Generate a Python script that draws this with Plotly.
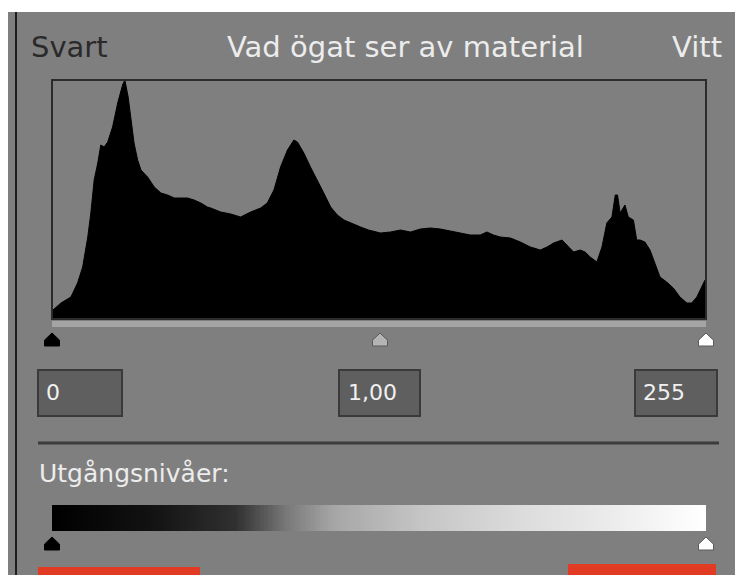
import plotly.graph_objects as go

# page body has an 8px margin; figure is placed at (8, 8) in the 743x575 window
OX, OY = 8, 8
W, H = 735, 567

# Histogram (input levels 0-255, relative pixel counts)
hist_levels = [0, 3.1, 7.0, 9.6, 11.6, 13.6, 14.8, 16.1, 17.5, 18.7, 20.0, 21.4, 23.3, 25.3, 27.2, 28.1,
               29.4, 30.5, 31.7, 33.1, 34.4, 37.0, 39.6, 42.2, 44.8, 47.4, 50.0, 52.6, 55.2, 57.8, 60.4,
               61.7, 65.6, 69.5, 73.4, 77.3, 81.2, 83.8, 86.4, 89.0, 91.7, 94.2, 95.6, 98.1, 100.7, 103.4,
               105.9, 108.6, 111.2, 113.8, 116.4, 120.3, 123.4, 128.1, 132.0, 135.9, 139.8, 143.7, 147.6,
               151.5, 155.4, 159.3, 163.2, 167.1, 169.7, 172.3, 174.9, 178.9, 182.8, 186.7, 190.6, 193.2,
               195.8, 199.1, 201.0, 203.6, 206.2, 208.1, 210.1, 212.7, 214.7, 216.6, 218.6, 219.9, 220.8,
               221.8, 223.7, 225.0, 227.0, 228.3, 229.6, 231.5, 233.5, 235.5, 237.4, 240.0, 242.6, 245.2,
               247.9, 249.8, 251.8, 253.7, 255]
hist_counts = [8, 15, 21, 35, 51, 81, 105, 138, 155, 173, 171, 176, 191, 215, 233, 238,
               221, 198, 175, 158, 148, 141, 131, 125, 123, 120, 120, 120, 118, 115, 111,
               110, 106, 104, 101, 106, 110, 115, 128, 151, 168, 178, 176, 165, 151, 138,
               125, 111, 103, 98, 95, 91, 88, 85, 86, 88, 86, 89, 90,
               89, 87, 85, 83, 83, 86, 83, 81, 80, 76, 71, 68, 71,
               75, 78, 73, 66, 68, 66, 61, 56, 71, 95, 101, 123, 123,
               105, 113, 101, 98, 78, 78, 76, 68, 55, 41, 36, 30, 21,
               15, 15, 21, 31, 38]

output_levels = list(range(256))
input_values = ["0", "1,00", "255"]
header_left, header_mid, header_right = "Svart", "Vad ögat ser av material", "Vitt"
output_label = "Utgångsnivåer:"

def px(x):
    return (x - OX) / W

def py(y):
    return 1 - (y - OY) / H

fig = go.Figure()

fig.add_trace(go.Scatter(
    x=hist_levels, y=hist_counts, mode="lines", fill="tozeroy",
    line=dict(color="black", width=1), fillcolor="black",
    hoverinfo="skip", showlegend=False, xaxis="x", yaxis="y"))

fig.add_trace(go.Heatmap(
    z=[output_levels], x=output_levels, y=[0],
    colorscale=[[0, "#000000"], [0.15, "#121212"], [0.28, "#303030"], [0.36, "#7a7a7a"],
                [0.43, "#a6a6a6"], [0.57, "#c6c6c6"], [0.72, "#dcdcdc"], [0.86, "#ececec"],
                [1, "#ffffff"]],
    showscale=False, hoverinfo="skip", xaxis="x2", yaxis="y2"))

shapes = []
# panel background
shapes.append(dict(type="rect", xref="paper", yref="paper", x0=px(8), x1=px(743), y0=py(575), y1=py(12),
                   fillcolor="#7f7f7f", line=dict(width=0), layer="below"))
# panel borders
shapes.append(dict(type="line", xref="paper", yref="paper", x0=px(16), x1=px(16), y0=py(575), y1=py(12),
                   line=dict(color="#1e1e1e", width=2)))
shapes.append(dict(type="line", xref="paper", yref="paper", x0=px(738), x1=px(738), y0=py(575), y1=py(12),
                   line=dict(color="#2a2a2a", width=2)))
# histogram box
shapes.append(dict(type="rect", xref="paper", yref="paper", x0=px(52), x1=px(706), y0=py(319), y1=py(80),
                   line=dict(color="#2b2b2b", width=2)))
# slider track
shapes.append(dict(type="rect", xref="paper", yref="paper", x0=px(52), x1=px(706), y0=py(327), y1=py(321),
                   fillcolor="#a4a4a4", line=dict(width=0)))

def slider(cx, top, fill, edge):
    w, h = 15, 13
    pts = [(cx, top), (cx + w / 2, top + h * 0.55), (cx + w / 2, top + h), (cx - w / 2, top + h),
           (cx - w / 2, top + h * 0.55)]
    path = "M " + " L ".join(f"{px(a):.5f},{py(b):.5f}" for a, b in pts) + " Z"
    return dict(type="path", xref="paper", yref="paper", path=path, fillcolor=fill,
                line=dict(color=edge, width=1))

shapes.append(slider(52, 333, "#000000", "#000000"))
shapes.append(slider(380, 333, "#b4b4b4", "#5a5a5a"))
shapes.append(slider(706, 333, "#ffffff", "#5a5a5a"))
shapes.append(slider(52, 537, "#000000", "#000000"))
shapes.append(slider(706, 537, "#ffffff", "#5a5a5a"))

# input boxes
boxes = [(38, 122), (339, 420), (635, 717)]
for (a, b) in boxes:
    shapes.append(dict(type="rect", xref="paper", yref="paper", x0=px(a), x1=px(b), y0=py(416), y1=py(370),
                       fillcolor="#5f5f5f", line=dict(color="#3a3a3a", width=2)))

# separator
shapes.append(dict(type="line", xref="paper", yref="paper", x0=px(38), x1=px(719), y0=py(443), y1=py(443),
                   line=dict(color="#3c3c3c", width=3)))

# red buttons at bottom
shapes.append(dict(type="rect", xref="paper", yref="paper", x0=px(38), x1=px(200), y0=py(576), y1=py(567),
                   fillcolor="#e23b24", line=dict(width=0)))
shapes.append(dict(type="rect", xref="paper", yref="paper", x0=px(568), x1=px(716), y0=py(576), y1=py(564),
                   fillcolor="#e23b24", line=dict(width=0)))

annotations = []
FONT = "DejaVu Sans"
annotations.append(dict(text=header_left, x=px(29), y=py(47), xref="paper", yref="paper", xanchor="left",
                        yanchor="middle", showarrow=False, font=dict(family=FONT, size=29, color="#2a2a2a")))
annotations.append(dict(text=header_mid, x=px(405), y=py(47), xref="paper", yref="paper", xanchor="center",
                        yanchor="middle", showarrow=False, font=dict(family=FONT, size=29, color="#ececec")))
annotations.append(dict(text=header_right, x=px(724), y=py(47), xref="paper", yref="paper", xanchor="right",
                        yanchor="middle", showarrow=False, font=dict(family=FONT, size=29, color="#ececec")))
text_x = [44, 346, 641]
for t, xx in zip(input_values, text_x):
    annotations.append(dict(text=t, x=px(xx), y=py(392), xref="paper", yref="paper", xanchor="left",
                            yanchor="middle", showarrow=False, font=dict(family=FONT, size=22, color="#f0f0f0")))
annotations.append(dict(text=output_label, x=px(37), y=py(473), xref="paper", yref="paper", xanchor="left",
                        yanchor="middle", showarrow=False, font=dict(family=FONT, size=25, color="#ececec")))

fig.update_layout(
    width=W, height=H, autosize=False,
    margin=dict(l=0, r=0, t=0, b=0, pad=0),
    paper_bgcolor="#ffffff", plot_bgcolor="rgba(0,0,0,0)",
    shapes=shapes, annotations=annotations,
    xaxis=dict(domain=[px(53), px(705)], range=[0, 255], visible=False, fixedrange=True),
    yaxis=dict(domain=[py(318), py(80)], range=[0, 238], visible=False, fixedrange=True),
    xaxis2=dict(domain=[px(52), px(706)], range=[-0.5, 255.5], visible=False, fixedrange=True, anchor="y2"),
    yaxis2=dict(domain=[py(531), py(505)], range=[-0.5, 0.5], visible=False, fixedrange=True, anchor="x2"),
)

fig.write_html("out.html")
